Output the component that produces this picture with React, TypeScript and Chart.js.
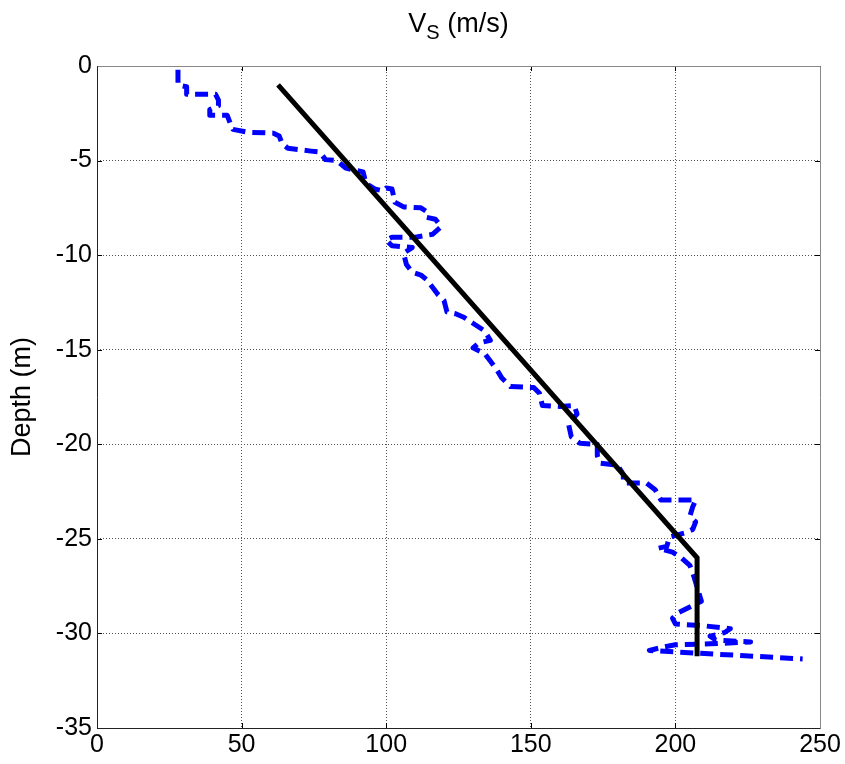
import React, { useEffect, useRef } from "react";
import { Chart, registerables } from "chart.js";

Chart.register(...registerables);

// Measured shear-wave velocity profile (blue dashed)
const measuredVs = [
  28, 28, 31, 31, 41, 42, 42, 39, 39, 45, 46, 47, 52, 61, 63, 64, 66, 74, 77, 79,
  83, 86, 89, 92, 93, 96, 99, 100, 102, 103, 106, 112, 114, 114, 117, 119, 116, 110, 102, 100,
  102, 109, 106, 107, 109, 112, 114, 116, 118, 120, 121, 124, 127, 130, 134, 136, 132, 130, 134, 136,
  138, 140, 143, 151, 153, 154, 160, 165, 166, 163, 164, 167, 173, 173, 174, 180, 182, 182, 190, 193,
  195, 207, 206, 205, 207, 206, 203, 198, 197, 194, 199, 202, 205, 206, 207, 208, 209, 205, 201, 199,
  200, 210, 219, 217, 212, 214, 226, 212, 200, 195, 191, 244,
];
const measuredDepth = [
  -0.2, -1.0, -1.1, -1.5, -1.5, -1.8, -2.1, -2.3, -2.6, -2.6, -3.0, -3.35, -3.5, -3.55, -3.7, -4.1, -4.35, -4.5, -4.55, -4.95,
  -5.0, -5.4, -5.5, -5.6, -6.2, -6.5, -6.6, -6.45, -6.5, -7.2, -7.45, -7.5, -7.7, -8.0, -8.1, -8.5, -8.9, -9.05, -9.05, -9.2,
  -9.5, -9.6, -9.9, -10.5, -10.9, -11.05, -11.3, -11.7, -12.1, -12.4, -13.0, -13.1, -13.3, -13.6, -14.0, -14.5, -14.65, -14.9, -15.2, -15.6,
  -16.0, -16.5, -16.95, -17.0, -17.3, -17.95, -18.0, -17.95, -18.4, -18.9, -19.6, -19.95, -20.0, -20.6, -21.0, -21.1, -21.6, -22.05, -22.05, -22.4,
  -22.95, -22.95, -23.3, -23.8, -24.1, -24.5, -24.7, -24.9, -25.4, -25.5, -25.7, -26.0, -26.4, -26.8, -27.3, -27.8, -28.3, -28.6, -28.9, -29.2,
  -29.5, -29.6, -29.75, -29.95, -30.15, -30.35, -30.45, -30.55, -30.6, -30.75, -30.9, -31.35,
];

// Fitted profile (black solid)
const fitVs = [62.6, 207.5, 207.5];
const fitDepth = [-1.0, -26.0, -31.2];

const xTickValues = [0, 50, 100, 150, 200, 250];
const yTickValues = [0, -5, -10, -15, -20, -25, -30, -35];

const FONT = "'Liberation Sans', Arial, Helvetica, sans-serif";

const toPoints = (xs: number[], ys: number[]) => xs.map((x, i) => ({ x, y: ys[i] }));

const framePlugin = {
  id: "frame",
  afterDatasetsDraw(chart: any) {
    const { ctx, chartArea: a, scales } = chart;
    const xs = scales.x;
    const ys = scales.y;
    ctx.save();
    // inner tick marks
    ctx.strokeStyle = "#000";
    ctx.lineWidth = 1;
    const tl = 5;
    ctx.beginPath();
    for (const v of xTickValues) {
      const px = Math.round(xs.getPixelForValue(v)) + 0.5;
      ctx.moveTo(px, a.bottom);
      ctx.lineTo(px, a.bottom - tl);
      ctx.moveTo(px, a.top);
      ctx.lineTo(px, a.top + tl);
    }
    for (const v of yTickValues) {
      const py = Math.round(ys.getPixelForValue(v)) + 0.5;
      ctx.moveTo(a.left, py);
      ctx.lineTo(a.left + tl, py);
      ctx.moveTo(a.right, py);
      ctx.lineTo(a.right - tl, py);
    }
    ctx.stroke();
    // box
    const L = Math.round(a.left) + 0.5;
    const R = Math.round(a.right) + 0.5;
    const T = Math.round(a.top) + 0.5;
    const B = Math.round(a.bottom) + 0.5;
    ctx.strokeStyle = "#888";
    ctx.beginPath();
    ctx.moveTo(L, T);
    ctx.lineTo(R, T);
    ctx.lineTo(R, B);
    ctx.stroke();
    ctx.strokeStyle = "#222";
    ctx.beginPath();
    ctx.moveTo(L, T);
    ctx.lineTo(L, B);
    ctx.lineTo(R, B);
    ctx.stroke();
    // top title with subscript: V_S (m/s)
    const cx = (a.left + a.right) / 2;
    const base = 32;
    ctx.fillStyle = "#000";
    ctx.textBaseline = "alphabetic";
    ctx.textAlign = "left";
    const mainFont = `27px ${FONT}`;
    const subFont = `20px ${FONT}`;
    ctx.font = mainFont;
    const wV = ctx.measureText("V").width;
    const wRest = ctx.measureText(" (m/s)").width;
    ctx.font = subFont;
    const wS = ctx.measureText("S").width;
    const total = wV + wS + wRest;
    let x = cx - total / 2;
    ctx.font = mainFont;
    ctx.fillText("V", x, base);
    x += wV;
    ctx.font = subFont;
    ctx.fillText("S", x, base + 7);
    x += wS;
    ctx.font = mainFont;
    ctx.fillText(" (m/s)", x, base);
    ctx.restore();
  },
};

export default function App() {
  const canvasRef = useRef<HTMLCanvasElement | null>(null);

  useEffect(() => {
    const canvas = canvasRef.current;
    if (!canvas) return;
    Chart.defaults.font.family = FONT;
    const chart = new Chart(canvas, {
      type: "scatter",
      data: {
        datasets: [
          {
            label: "Fit",
            data: toPoints(fitVs, fitDepth),
            showLine: true,
            borderColor: "#000000",
            backgroundColor: "#000000",
            borderWidth: 5,
            pointRadius: 0,
            pointHoverRadius: 0,
            tension: 0,
            borderJoinStyle: "miter",
            borderCapStyle: "butt",
            order: 0,
          },
          {
            label: "Measured",
            data: toPoints(measuredVs, measuredDepth),
            showLine: true,
            borderColor: "#0000ff",
            backgroundColor: "#0000ff",
            borderWidth: 5,
            borderDash: [13, 7],
            pointRadius: 0,
            pointHoverRadius: 0,
            tension: 0,
            borderJoinStyle: "round",
            borderCapStyle: "butt",
            order: 1,
          },
        ],
      },
      options: {
        responsive: false,
        animation: false,
        events: [],
        layout: { padding: { top: 66, right: 25, bottom: 0, left: 0 } },
        plugins: {
          legend: { display: false },
          tooltip: { enabled: false },
          title: { display: false },
        },
        scales: {
          x: {
            type: "linear",
            min: 0,
            max: 250,
            afterBuildTicks: (scale: any) => {
              scale.ticks = xTickValues.map((v) => ({ value: v }));
            },
            afterFit: (scale: any) => {
              scale.height = 36;
            },
            ticks: {
              color: "#000",
              font: { size: 25, family: FONT },
              padding: 2,
              maxRotation: 0,
              autoSkip: false,
            },
            grid: { color: "#555", lineWidth: 1, drawTicks: false },
            border: { display: false, dash: [1, 2] },
          },
          y: {
            type: "linear",
            min: -35,
            max: 0,
            afterBuildTicks: (scale: any) => {
              scale.ticks = yTickValues.map((v) => ({ value: v }));
            },
            afterFit: (scale: any) => {
              scale.width = 97;
            },
            ticks: {
              color: "#000",
              font: { size: 25, family: FONT },
              padding: 5,
              autoSkip: false,
            },
            grid: { color: "#555", lineWidth: 1, drawTicks: false },
            border: { display: false, dash: [1, 2] },
            title: {
              display: true,
              text: "Depth (m)",
              color: "#000",
              font: { size: 27, family: FONT },
              padding: { top: 6, bottom: 0 },
            },
          },
        },
      },
      plugins: [framePlugin],
    } as any);
    return () => chart.destroy();
  }, []);

  return (
    <div style={{ position: "absolute", left: 0, top: 0, width: 845, height: 764, background: "#fff" }}>
      <canvas ref={canvasRef} width={845} height={764} style={{ display: "block" }} />
    </div>
  );
}
